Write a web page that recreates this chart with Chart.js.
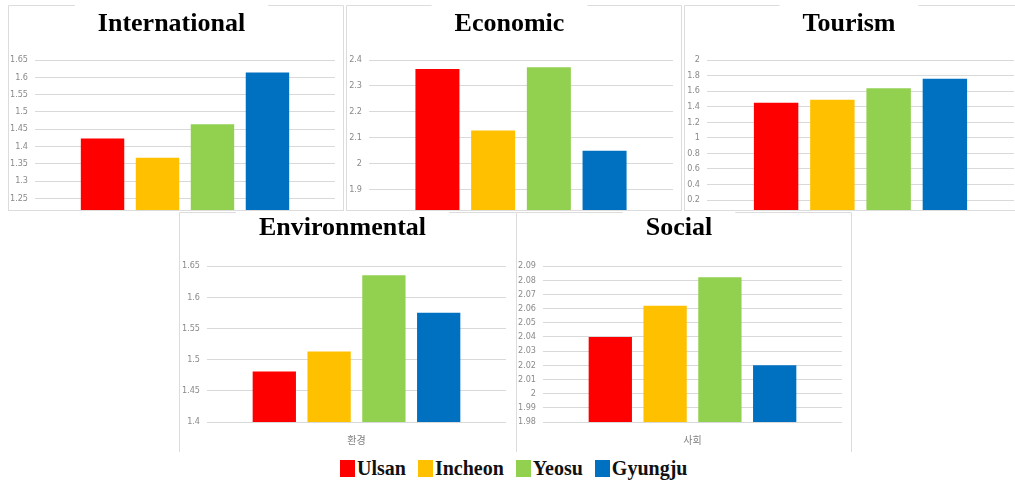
<!DOCTYPE html>
<html>
<head>
<meta charset="utf-8">
<script src="https://cdn.jsdelivr.net/npm/chart.js@4.4.1/dist/chart.umd.min.js"></script>
<style>
  html, body { margin:0; padding:0; background:#fff; width:1015px; height:482px; overflow:hidden; }
  .panel { position:absolute; overflow:hidden; background:#fff; }
  .top { border-bottom:1px solid #dcdcdc; }
  .inner { position:relative; width:100%; }
  #legend { position:absolute; left:340px; top:457px; display:flex; align-items:center;
            font-family:'Liberation Serif', serif; font-weight:bold; font-size:20px; color:#111; }
  #legend .item { display:flex; align-items:center; margin-right:12px; }
  #legend .box { width:15px; height:17px; margin-right:2px; }
</style>
</head>
<body>
<div class="panel top" id="p0" style="left:8px;top:5px;width:336px;height:205px;"><div class="inner" style="height:223px;"><canvas id="c0"></canvas></div></div>
<div class="panel top" id="p1" style="left:346px;top:5px;width:336px;height:205px;"><div class="inner" style="height:223px;"><canvas id="c1"></canvas></div></div>
<div class="panel top" id="p2" style="left:684px;top:5px;width:336px;height:205px;"><div class="inner" style="height:223px;"><canvas id="c2"></canvas></div></div>
<div class="panel" id="p3" style="left:179px;top:212px;width:338px;height:240px;"><div class="inner" style="height:240px;"><canvas id="c3"></canvas></div></div>
<div class="panel" id="p4" style="left:516px;top:212px;width:336px;height:240px;"><div class="inner" style="height:240px;"><canvas id="c4"></canvas></div></div>
<div id="legend"></div>
<script>
// ---- data ----
const cities = ['Ulsan', 'Incheon', 'Yeosu', 'Gyungju'];
const cityColors = ['#FF0000', '#FFC000', '#92D050', '#0070C0'];
const chartTitles = ['International', 'Economic', 'Tourism', 'Environmental', 'Social'];
const categoryLabels = ['국제', '경제', '관광', '환경', '사회'];

const international = [1.423, 1.367, 1.464, 1.614];
const economic      = [2.365, 2.128, 2.372, 2.050];
const tourism       = [1.451, 1.490, 1.638, 1.758];
const environmental = [1.481, 1.513, 1.635, 1.575];
const social        = [2.040, 2.062, 2.082, 2.020];

// axis ranges: [min, max, step]
const internationalAxis = [1.2, 1.65, 0.05];
const economicAxis      = [1.8, 2.4, 0.1];
const tourismAxis       = [0, 2, 0.2];
const environmentalAxis = [1.4, 1.65, 0.05];
const socialAxis        = [1.98, 2.09, 0.01];

// ---- drawing ----
const titleFont = {family:"'Liberation Serif', 'DejaVu Serif', serif", size:26, weight:'bold'};
const tickFont = {family:"'Liberation Sans Narrow', 'DejaVu Sans Condensed', 'Liberation Sans', sans-serif", size:9};
const catFont = {family:"'Noto Sans CJK KR', sans-serif", size:10};

const framePlugin = {
  id: 'frame',
  beforeDraw(chart) {
    const {ctx, width, height} = chart;
    const tb = chart.titleBlock;
    ctx.save();
    ctx.font = `bold ${titleFont.size}px ${titleFont.family}`;
    const tw = ctx.measureText(chart.options.plugins.title.text).width;
    const cx = (tb.left + tb.right) / 2;
    const gapL = cx - tw / 2 - 23, gapR = cx + tw / 2 + 23;
    ctx.strokeStyle = '#dcdcdc';
    ctx.lineWidth = 1;
    ctx.beginPath();
    ctx.moveTo(0.5, height); ctx.lineTo(0.5, 0.5); ctx.lineTo(gapL, 0.5);
    ctx.moveTo(gapR, 0.5); ctx.lineTo(width - 0.5, 0.5); ctx.lineTo(width - 0.5, height);
    ctx.stroke();
    ctx.restore();
  }
};

function makeChart(idx, values, axis, opts) {
  const ctx = document.getElementById('c' + idx);
  return new Chart(ctx, {
    type: 'bar',
    data: {
      labels: [categoryLabels[idx]],
      datasets: cities.map((c, i) => ({
        label: c,
        data: [values[i]],
        backgroundColor: cityColors[i],
        categoryPercentage: 0.733,
        barPercentage: 0.79
      }))
    },
    options: {
      responsive: true,
      maintainAspectRatio: false,
      animation: false,
      layout: {padding: {top: 0, left: 0, right: opts.padRight, bottom: opts.padBottom}},
      plugins: {
        legend: {display: false},
        tooltip: {enabled: false},
        title: {display: true, text: chartTitles[idx], font: titleFont, color: '#000',
                padding: opts.titlePad}
      },
      scales: {
        x: {
          grid: {display: false},
          border: {display: false},
          ticks: {display: opts.showX, padding: 4, font: catFont, color: '#7f7f7f'},
          afterFit: s => { s.height = opts.showX ? 30 : 0; }
        },
        y: {
          min: axis[0], max: axis[1],
          grid: {color: '#d9d9d9', drawTicks: false, lineWidth: 1},
          border: {display: false},
          ticks: {stepSize: axis[2], padding: 7, font: tickFont, color: '#8a8a8a',
                  callback: v => String(+Number(v).toFixed(3))},
          afterFit: s => { s.width = opts.leftW; }
        }
      }
    },
    plugins: [framePlugin]
  });
}

const topPad = {top: 4, bottom: 19.8};
const botPad = {top: 1, bottom: 21.8};
makeChart(0, international, internationalAxis, {leftW: 27, padRight: 9, padBottom: 4, showX: false, titlePad: topPad});
makeChart(1, economic, economicAxis, {leftW: 23, padRight: 9, padBottom: 4, showX: false, titlePad: topPad});
makeChart(2, tourism, tourismAxis, {leftW: 23, padRight: 6, padBottom: 4, showX: false, titlePad: topPad});
makeChart(3, environmental, environmentalAxis, {leftW: 28, padRight: 11, padBottom: 0, showX: true, titlePad: botPad});
makeChart(4, social, socialAxis, {leftW: 27, padRight: 10, padBottom: 0, showX: true, titlePad: botPad});

// shared legend
const lg = document.getElementById('legend');
cities.forEach((c, i) => {
  const it = document.createElement('div');
  it.className = 'item';
  const b = document.createElement('span');
  b.className = 'box';
  b.style.background = cityColors[i];
  const t = document.createElement('span');
  t.textContent = c;
  it.appendChild(b); it.appendChild(t);
  lg.appendChild(it);
});
</script>
</body>
</html>
